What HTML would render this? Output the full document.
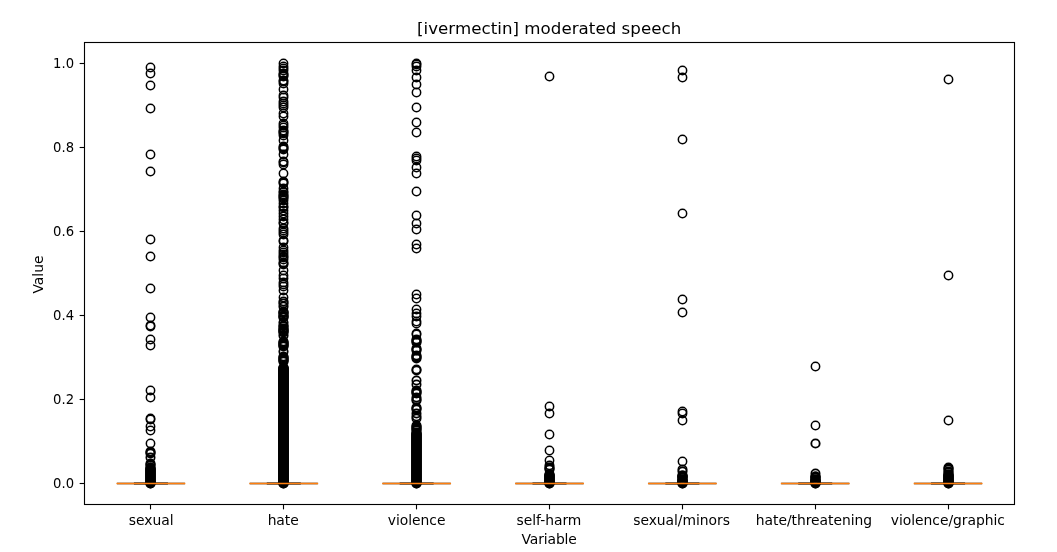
<!DOCTYPE html>
<html lang="en"><head><meta charset="utf-8">
<title>[ivermectin] moderated speech</title>
<style>
html,body{margin:0;padding:0;background:#fff;}
body{width:1057px;height:552px;overflow:hidden;}
svg{display:block;}
text{font-family:"DejaVu Sans","Liberation Sans",sans-serif;fill:#000;}
.t10{font-size:13.89px;}
.t12{font-size:16.67px;}
.fl circle{fill:none;stroke:#000;stroke-width:1.50;}
.fl circle.md{stroke-width:1.7;}
.fl circle.hv{stroke-width:1.85;}
.ln{stroke:#000;fill:none;}
.med{stroke:#ff7f0e;stroke-width:1.39;fill:none;}
.tk{stroke:#000;stroke-width:1.11;}
</style></head><body>
<svg width="1057" height="552" viewBox="0 0 1057 552">
<rect width="1057" height="552" fill="#fff"/>
<g class="col">
<path class="ln" stroke-width="1.7" d="M116.91 483.50H184.94"/>
<path class="ln" stroke-width="2.1" d="M133.92 483.50H167.94"/>
<g class="fl">
<circle cx="150.5" cy="67.5" r="4.17"/>
<circle cx="150.5" cy="73.5" r="4.17"/>
<circle cx="150.5" cy="85.5" r="4.17"/>
<circle cx="150.5" cy="108.5" r="4.17"/>
<circle cx="150.5" cy="154.5" r="4.17"/>
<circle cx="150.5" cy="171.5" r="4.17"/>
<circle cx="150.5" cy="239.5" r="4.17"/>
<circle cx="150.5" cy="256.5" r="4.17"/>
<circle cx="150.5" cy="288.5" r="4.17"/>
<circle cx="150.5" cy="317.5" r="4.17"/>
<circle cx="150.5" cy="325.5" r="4.17"/>
<circle cx="150.5" cy="326.5" r="4.17"/>
<circle cx="150.5" cy="339.5" r="4.17"/>
<circle cx="150.5" cy="345.5" r="4.17"/>
<circle cx="150.5" cy="390.5" r="4.17"/>
<circle cx="150.5" cy="397.5" r="4.17"/>
<circle cx="150.5" cy="418.5" r="4.17"/>
<circle cx="150.5" cy="419.5" r="4.17"/>
<circle cx="150.5" cy="426.5" r="4.17"/>
<circle cx="150.5" cy="430.5" r="4.17"/>
<circle cx="150.5" cy="443.5" r="4.17"/>
<circle cx="150.5" cy="451.5" r="4.17" class="md"/>
<circle cx="150.5" cy="452.5" r="4.17" class="md"/>
<circle cx="150.5" cy="453.5" r="4.17" class="md"/>
<circle cx="150.5" cy="457.5" r="4.17" class="md"/>
<circle cx="150.5" cy="463.5" r="4.17" class="md"/>
<circle cx="150.5" cy="464.5" r="4.17" class="md"/>
<circle cx="150.5" cy="465.5" r="4.17" class="md"/>
<circle cx="150.5" cy="467.5" r="4.17" class="md"/>
<circle cx="150.5" cy="468.5" r="4.17" class="md"/>
<circle cx="150.5" cy="468.5" r="4.17" class="md"/>
<circle cx="150.5" cy="469.5" r="4.17" class="md"/>
<circle cx="150.5" cy="469.5" r="4.17" class="md"/>
<circle cx="150.5" cy="470.5" r="4.17" class="md"/>
<circle cx="150.5" cy="470.5" r="4.17" class="md"/>
<circle cx="150.5" cy="471.5" r="4.17" class="md"/>
<circle cx="150.5" cy="471.5" r="4.17" class="md"/>
<circle cx="150.5" cy="472.5" r="4.17" class="md"/>
<circle cx="150.5" cy="472.5" r="4.17" class="md"/>
<circle cx="150.5" cy="473.5" r="4.17" class="md"/>
<circle cx="150.5" cy="473.5" r="4.17" class="md"/>
<circle cx="150.5" cy="474.5" r="4.17" class="md"/>
<circle cx="150.5" cy="474.5" r="4.17" class="md"/>
<circle cx="150.5" cy="475.5" r="4.17" class="md"/>
<circle cx="150.5" cy="475.5" r="4.17" class="md"/>
<circle cx="150.5" cy="476.5" r="4.17" class="md"/>
<circle cx="150.5" cy="476.5" r="4.17" class="md"/>
<circle cx="150.5" cy="477.5" r="4.17" class="md"/>
<circle cx="150.5" cy="477.5" r="4.17" class="md"/>
<circle cx="150.5" cy="478.5" r="4.17" class="md"/>
<circle cx="150.5" cy="478.5" r="4.17" class="md"/>
<circle cx="150.5" cy="479.5" r="4.17" class="md"/>
<circle cx="150.5" cy="479.5" r="4.17" class="md"/>
<circle cx="150.5" cy="480.5" r="4.17" class="md"/>
<circle cx="150.5" cy="480.5" r="4.17" class="md"/>
<circle cx="150.5" cy="481.5" r="4.17" class="md"/>
<circle cx="150.5" cy="481.5" r="4.17" class="md"/>
<circle cx="150.5" cy="482.5" r="4.17" class="md"/>
<circle cx="150.5" cy="482.5" r="4.17" class="md"/>
<circle cx="150.5" cy="483.5" r="4.17" class="md"/>
<circle cx="150.5" cy="483.5" r="4.17" class="md"/>
</g>
<path class="med" d="M116.51 483.50H185.34"/>
</g>
<g class="col">
<path class="ln" stroke-width="1.7" d="M249.77 483.50H317.80"/>
<path class="ln" stroke-width="2.1" d="M266.78 483.50H300.79"/>
<g class="fl">
<circle cx="283.5" cy="63.5" r="4.17"/>
<circle cx="283.5" cy="66.5" r="4.17"/>
<circle cx="283.5" cy="68.5" r="4.17"/>
<circle cx="283.5" cy="70.5" r="4.17"/>
<circle cx="283.5" cy="73.5" r="4.17"/>
<circle cx="283.5" cy="74.5" r="4.17"/>
<circle cx="283.5" cy="75.5" r="4.17"/>
<circle cx="283.5" cy="76.5" r="4.17"/>
<circle cx="283.5" cy="80.5" r="4.17"/>
<circle cx="283.5" cy="81.5" r="4.17"/>
<circle cx="283.5" cy="83.5" r="4.17"/>
<circle cx="283.5" cy="89.5" r="4.17"/>
<circle cx="283.5" cy="95.5" r="4.17"/>
<circle cx="283.5" cy="97.5" r="4.17"/>
<circle cx="283.5" cy="101.5" r="4.17"/>
<circle cx="283.5" cy="103.5" r="4.17"/>
<circle cx="283.5" cy="105.5" r="4.17"/>
<circle cx="283.5" cy="107.5" r="4.17"/>
<circle cx="283.5" cy="113.5" r="4.17"/>
<circle cx="283.5" cy="116.5" r="4.17"/>
<circle cx="283.5" cy="123.5" r="4.17"/>
<circle cx="283.5" cy="125.5" r="4.17"/>
<circle cx="283.5" cy="127.5" r="4.17"/>
<circle cx="283.5" cy="130.5" r="4.17"/>
<circle cx="283.5" cy="131.5" r="4.17"/>
<circle cx="283.5" cy="132.5" r="4.17"/>
<circle cx="283.5" cy="133.5" r="4.17"/>
<circle cx="283.5" cy="135.5" r="4.17"/>
<circle cx="283.5" cy="140.5" r="4.17"/>
<circle cx="283.5" cy="146.5" r="4.17"/>
<circle cx="283.5" cy="147.5" r="4.17"/>
<circle cx="283.5" cy="148.5" r="4.17"/>
<circle cx="283.5" cy="149.5" r="4.17"/>
<circle cx="283.5" cy="154.5" r="4.17"/>
<circle cx="283.5" cy="161.5" r="4.17"/>
<circle cx="283.5" cy="162.5" r="4.17"/>
<circle cx="283.5" cy="164.5" r="4.17"/>
<circle cx="283.5" cy="173.5" r="4.17"/>
<circle cx="283.5" cy="181.5" r="4.17"/>
<circle cx="283.5" cy="182.5" r="4.17"/>
<circle cx="283.5" cy="183.5" r="4.17"/>
<circle cx="283.5" cy="188.5" r="4.17"/>
<circle cx="283.5" cy="191.5" r="4.17"/>
<circle cx="283.5" cy="192.5" r="4.17"/>
<circle cx="283.5" cy="194.5" r="4.17"/>
<circle cx="283.5" cy="195.5" r="4.17"/>
<circle cx="283.5" cy="196.5" r="4.17"/>
<circle cx="283.5" cy="197.5" r="4.17"/>
<circle cx="283.5" cy="198.5" r="4.17"/>
<circle cx="283.5" cy="200.5" r="4.17"/>
<circle cx="283.5" cy="203.5" r="4.17"/>
<circle cx="283.5" cy="206.5" r="4.17"/>
<circle cx="283.5" cy="207.5" r="4.17"/>
<circle cx="283.5" cy="210.5" r="4.17"/>
<circle cx="283.5" cy="213.5" r="4.17"/>
<circle cx="283.5" cy="216.5" r="4.17"/>
<circle cx="283.5" cy="219.5" r="4.17"/>
<circle cx="283.5" cy="222.5" r="4.17"/>
<circle cx="283.5" cy="223.5" r="4.17"/>
<circle cx="283.5" cy="228.5" r="4.17"/>
<circle cx="283.5" cy="230.5" r="4.17"/>
<circle cx="283.5" cy="232.5" r="4.17"/>
<circle cx="283.5" cy="234.5" r="4.17"/>
<circle cx="283.5" cy="240.5" r="4.17"/>
<circle cx="283.5" cy="241.5" r="4.17"/>
<circle cx="283.5" cy="247.5" r="4.17"/>
<circle cx="283.5" cy="250.5" r="4.17"/>
<circle cx="283.5" cy="252.5" r="4.17"/>
<circle cx="283.5" cy="254.5" r="4.17"/>
<circle cx="283.5" cy="256.5" r="4.17"/>
<circle cx="283.5" cy="257.5" r="4.17"/>
<circle cx="283.5" cy="259.5" r="4.17"/>
<circle cx="283.5" cy="262.5" r="4.17"/>
<circle cx="283.5" cy="263.5" r="4.17"/>
<circle cx="283.5" cy="264.5" r="4.17"/>
<circle cx="283.5" cy="270.5" r="4.17"/>
<circle cx="283.5" cy="275.5" r="4.17"/>
<circle cx="283.5" cy="278.5" r="4.17"/>
<circle cx="283.5" cy="282.5" r="4.17"/>
<circle cx="283.5" cy="284.5" r="4.17"/>
<circle cx="283.5" cy="286.5" r="4.17"/>
<circle cx="283.5" cy="290.5" r="4.17"/>
<circle cx="283.5" cy="297.5" r="4.17"/>
<circle cx="283.5" cy="301.5" r="4.17" class="hv"/>
<circle cx="283.5" cy="303.5" r="4.17" class="hv"/>
<circle cx="283.5" cy="306.5" r="4.17" class="hv"/>
<circle cx="283.5" cy="311.5" r="4.17" class="hv"/>
<circle cx="283.5" cy="312.5" r="4.17" class="hv"/>
<circle cx="283.5" cy="313.5" r="4.17" class="hv"/>
<circle cx="283.5" cy="315.5" r="4.17" class="hv"/>
<circle cx="283.5" cy="316.5" r="4.17" class="hv"/>
<circle cx="283.5" cy="317.5" r="4.17" class="hv"/>
<circle cx="283.5" cy="322.5" r="4.17" class="hv"/>
<circle cx="283.5" cy="325.5" r="4.17" class="hv"/>
<circle cx="283.5" cy="326.5" r="4.17" class="hv"/>
<circle cx="283.5" cy="328.5" r="4.17" class="hv"/>
<circle cx="283.5" cy="329.5" r="4.17" class="hv"/>
<circle cx="283.5" cy="330.5" r="4.17" class="hv"/>
<circle cx="283.5" cy="331.5" r="4.17" class="hv"/>
<circle cx="283.5" cy="332.5" r="4.17" class="hv"/>
<circle cx="283.5" cy="335.5" r="4.17" class="hv"/>
<circle cx="283.5" cy="341.5" r="4.17" class="hv"/>
<circle cx="283.5" cy="342.5" r="4.17" class="hv"/>
<circle cx="283.5" cy="343.5" r="4.17" class="hv"/>
<circle cx="283.5" cy="344.5" r="4.17" class="hv"/>
<circle cx="283.5" cy="345.5" r="4.17" class="hv"/>
<circle cx="283.5" cy="346.5" r="4.17" class="hv"/>
<circle cx="283.5" cy="351.5" r="4.17" class="hv"/>
<circle cx="283.5" cy="356.5" r="4.17" class="hv"/>
<circle cx="283.5" cy="357.5" r="4.17" class="hv"/>
<circle cx="283.5" cy="358.5" r="4.17" class="hv"/>
<circle cx="283.5" cy="359.5" r="4.17" class="hv"/>
<circle cx="283.5" cy="360.5" r="4.17" class="hv"/>
<circle cx="283.5" cy="361.5" r="4.17" class="hv"/>
<circle cx="283.5" cy="367.5" r="4.17" class="hv"/>
<circle cx="283.5" cy="367.5" r="4.17" class="hv"/>
<circle cx="283.5" cy="368.5" r="4.17" class="hv"/>
<circle cx="283.5" cy="368.5" r="4.17" class="hv"/>
<circle cx="283.5" cy="369.5" r="4.17" class="hv"/>
<circle cx="283.5" cy="369.5" r="4.17" class="hv"/>
<circle cx="283.5" cy="370.5" r="4.17" class="hv"/>
<circle cx="283.5" cy="370.5" r="4.17" class="hv"/>
<circle cx="283.5" cy="371.5" r="4.17" class="hv"/>
<circle cx="283.5" cy="371.5" r="4.17" class="hv"/>
<circle cx="283.5" cy="372.5" r="4.17" class="hv"/>
<circle cx="283.5" cy="372.5" r="4.17" class="hv"/>
<circle cx="283.5" cy="373.5" r="4.17" class="hv"/>
<circle cx="283.5" cy="373.5" r="4.17" class="hv"/>
<circle cx="283.5" cy="374.5" r="4.17" class="hv"/>
<circle cx="283.5" cy="374.5" r="4.17" class="hv"/>
<circle cx="283.5" cy="375.5" r="4.17" class="hv"/>
<circle cx="283.5" cy="375.5" r="4.17" class="hv"/>
<circle cx="283.5" cy="376.5" r="4.17" class="hv"/>
<circle cx="283.5" cy="376.5" r="4.17" class="hv"/>
<circle cx="283.5" cy="377.5" r="4.17" class="hv"/>
<circle cx="283.5" cy="377.5" r="4.17" class="hv"/>
<circle cx="283.5" cy="378.5" r="4.17" class="hv"/>
<circle cx="283.5" cy="378.5" r="4.17" class="hv"/>
<circle cx="283.5" cy="379.5" r="4.17" class="hv"/>
<circle cx="283.5" cy="379.5" r="4.17" class="hv"/>
<circle cx="283.5" cy="380.5" r="4.17" class="hv"/>
<circle cx="283.5" cy="380.5" r="4.17" class="hv"/>
<circle cx="283.5" cy="381.5" r="4.17" class="hv"/>
<circle cx="283.5" cy="381.5" r="4.17" class="hv"/>
<circle cx="283.5" cy="382.5" r="4.17" class="hv"/>
<circle cx="283.5" cy="382.5" r="4.17" class="hv"/>
<circle cx="283.5" cy="383.5" r="4.17" class="hv"/>
<circle cx="283.5" cy="383.5" r="4.17" class="hv"/>
<circle cx="283.5" cy="384.5" r="4.17" class="hv"/>
<circle cx="283.5" cy="384.5" r="4.17" class="hv"/>
<circle cx="283.5" cy="385.5" r="4.17" class="hv"/>
<circle cx="283.5" cy="385.5" r="4.17" class="hv"/>
<circle cx="283.5" cy="386.5" r="4.17" class="hv"/>
<circle cx="283.5" cy="386.5" r="4.17" class="hv"/>
<circle cx="283.5" cy="387.5" r="4.17" class="hv"/>
<circle cx="283.5" cy="387.5" r="4.17" class="hv"/>
<circle cx="283.5" cy="388.5" r="4.17" class="hv"/>
<circle cx="283.5" cy="388.5" r="4.17" class="hv"/>
<circle cx="283.5" cy="389.5" r="4.17" class="hv"/>
<circle cx="283.5" cy="389.5" r="4.17" class="hv"/>
<circle cx="283.5" cy="390.5" r="4.17" class="hv"/>
<circle cx="283.5" cy="390.5" r="4.17" class="hv"/>
<circle cx="283.5" cy="391.5" r="4.17" class="hv"/>
<circle cx="283.5" cy="391.5" r="4.17" class="hv"/>
<circle cx="283.5" cy="392.5" r="4.17" class="hv"/>
<circle cx="283.5" cy="392.5" r="4.17" class="hv"/>
<circle cx="283.5" cy="393.5" r="4.17" class="hv"/>
<circle cx="283.5" cy="393.5" r="4.17" class="hv"/>
<circle cx="283.5" cy="394.5" r="4.17" class="hv"/>
<circle cx="283.5" cy="394.5" r="4.17" class="hv"/>
<circle cx="283.5" cy="395.5" r="4.17" class="hv"/>
<circle cx="283.5" cy="395.5" r="4.17" class="hv"/>
<circle cx="283.5" cy="396.5" r="4.17" class="hv"/>
<circle cx="283.5" cy="396.5" r="4.17" class="hv"/>
<circle cx="283.5" cy="397.5" r="4.17" class="hv"/>
<circle cx="283.5" cy="397.5" r="4.17" class="hv"/>
<circle cx="283.5" cy="398.5" r="4.17" class="hv"/>
<circle cx="283.5" cy="398.5" r="4.17" class="hv"/>
<circle cx="283.5" cy="399.5" r="4.17" class="hv"/>
<circle cx="283.5" cy="399.5" r="4.17" class="hv"/>
<circle cx="283.5" cy="400.5" r="4.17" class="hv"/>
<circle cx="283.5" cy="400.5" r="4.17" class="hv"/>
<circle cx="283.5" cy="401.5" r="4.17" class="hv"/>
<circle cx="283.5" cy="401.5" r="4.17" class="hv"/>
<circle cx="283.5" cy="402.5" r="4.17" class="hv"/>
<circle cx="283.5" cy="402.5" r="4.17" class="hv"/>
<circle cx="283.5" cy="403.5" r="4.17" class="hv"/>
<circle cx="283.5" cy="403.5" r="4.17" class="hv"/>
<circle cx="283.5" cy="404.5" r="4.17" class="hv"/>
<circle cx="283.5" cy="404.5" r="4.17" class="hv"/>
<circle cx="283.5" cy="405.5" r="4.17" class="hv"/>
<circle cx="283.5" cy="405.5" r="4.17" class="hv"/>
<circle cx="283.5" cy="406.5" r="4.17" class="hv"/>
<circle cx="283.5" cy="406.5" r="4.17" class="hv"/>
<circle cx="283.5" cy="407.5" r="4.17" class="hv"/>
<circle cx="283.5" cy="407.5" r="4.17" class="hv"/>
<circle cx="283.5" cy="408.5" r="4.17" class="hv"/>
<circle cx="283.5" cy="408.5" r="4.17" class="hv"/>
<circle cx="283.5" cy="409.5" r="4.17" class="hv"/>
<circle cx="283.5" cy="409.5" r="4.17" class="hv"/>
<circle cx="283.5" cy="410.5" r="4.17" class="hv"/>
<circle cx="283.5" cy="410.5" r="4.17" class="hv"/>
<circle cx="283.5" cy="411.5" r="4.17" class="hv"/>
<circle cx="283.5" cy="411.5" r="4.17" class="hv"/>
<circle cx="283.5" cy="412.5" r="4.17" class="hv"/>
<circle cx="283.5" cy="412.5" r="4.17" class="hv"/>
<circle cx="283.5" cy="413.5" r="4.17" class="hv"/>
<circle cx="283.5" cy="413.5" r="4.17" class="hv"/>
<circle cx="283.5" cy="414.5" r="4.17" class="hv"/>
<circle cx="283.5" cy="414.5" r="4.17" class="hv"/>
<circle cx="283.5" cy="415.5" r="4.17" class="hv"/>
<circle cx="283.5" cy="415.5" r="4.17" class="hv"/>
<circle cx="283.5" cy="416.5" r="4.17" class="hv"/>
<circle cx="283.5" cy="416.5" r="4.17" class="hv"/>
<circle cx="283.5" cy="417.5" r="4.17" class="hv"/>
<circle cx="283.5" cy="417.5" r="4.17" class="hv"/>
<circle cx="283.5" cy="418.5" r="4.17" class="hv"/>
<circle cx="283.5" cy="418.5" r="4.17" class="hv"/>
<circle cx="283.5" cy="419.5" r="4.17" class="hv"/>
<circle cx="283.5" cy="419.5" r="4.17" class="hv"/>
<circle cx="283.5" cy="420.5" r="4.17" class="hv"/>
<circle cx="283.5" cy="420.5" r="4.17" class="hv"/>
<circle cx="283.5" cy="421.5" r="4.17" class="hv"/>
<circle cx="283.5" cy="421.5" r="4.17" class="hv"/>
<circle cx="283.5" cy="422.5" r="4.17" class="hv"/>
<circle cx="283.5" cy="422.5" r="4.17" class="hv"/>
<circle cx="283.5" cy="423.5" r="4.17" class="hv"/>
<circle cx="283.5" cy="423.5" r="4.17" class="hv"/>
<circle cx="283.5" cy="424.5" r="4.17" class="hv"/>
<circle cx="283.5" cy="424.5" r="4.17" class="hv"/>
<circle cx="283.5" cy="425.5" r="4.17" class="hv"/>
<circle cx="283.5" cy="425.5" r="4.17" class="hv"/>
<circle cx="283.5" cy="426.5" r="4.17" class="hv"/>
<circle cx="283.5" cy="426.5" r="4.17" class="hv"/>
<circle cx="283.5" cy="427.5" r="4.17" class="hv"/>
<circle cx="283.5" cy="427.5" r="4.17" class="hv"/>
<circle cx="283.5" cy="428.5" r="4.17" class="hv"/>
<circle cx="283.5" cy="428.5" r="4.17" class="hv"/>
<circle cx="283.5" cy="429.5" r="4.17" class="hv"/>
<circle cx="283.5" cy="429.5" r="4.17" class="hv"/>
<circle cx="283.5" cy="430.5" r="4.17" class="hv"/>
<circle cx="283.5" cy="430.5" r="4.17" class="hv"/>
<circle cx="283.5" cy="431.5" r="4.17" class="hv"/>
<circle cx="283.5" cy="431.5" r="4.17" class="hv"/>
<circle cx="283.5" cy="432.5" r="4.17" class="hv"/>
<circle cx="283.5" cy="432.5" r="4.17" class="hv"/>
<circle cx="283.5" cy="433.5" r="4.17" class="hv"/>
<circle cx="283.5" cy="433.5" r="4.17" class="hv"/>
<circle cx="283.5" cy="434.5" r="4.17" class="hv"/>
<circle cx="283.5" cy="434.5" r="4.17" class="hv"/>
<circle cx="283.5" cy="435.5" r="4.17" class="hv"/>
<circle cx="283.5" cy="435.5" r="4.17" class="hv"/>
<circle cx="283.5" cy="436.5" r="4.17" class="hv"/>
<circle cx="283.5" cy="436.5" r="4.17" class="hv"/>
<circle cx="283.5" cy="437.5" r="4.17" class="hv"/>
<circle cx="283.5" cy="437.5" r="4.17" class="hv"/>
<circle cx="283.5" cy="438.5" r="4.17" class="hv"/>
<circle cx="283.5" cy="438.5" r="4.17" class="hv"/>
<circle cx="283.5" cy="439.5" r="4.17" class="hv"/>
<circle cx="283.5" cy="439.5" r="4.17" class="hv"/>
<circle cx="283.5" cy="440.5" r="4.17" class="hv"/>
<circle cx="283.5" cy="440.5" r="4.17" class="hv"/>
<circle cx="283.5" cy="441.5" r="4.17" class="hv"/>
<circle cx="283.5" cy="441.5" r="4.17" class="hv"/>
<circle cx="283.5" cy="442.5" r="4.17" class="hv"/>
<circle cx="283.5" cy="442.5" r="4.17" class="hv"/>
<circle cx="283.5" cy="443.5" r="4.17" class="hv"/>
<circle cx="283.5" cy="443.5" r="4.17" class="hv"/>
<circle cx="283.5" cy="444.5" r="4.17" class="hv"/>
<circle cx="283.5" cy="444.5" r="4.17" class="hv"/>
<circle cx="283.5" cy="445.5" r="4.17" class="hv"/>
<circle cx="283.5" cy="445.5" r="4.17" class="hv"/>
<circle cx="283.5" cy="446.5" r="4.17" class="hv"/>
<circle cx="283.5" cy="446.5" r="4.17" class="hv"/>
<circle cx="283.5" cy="447.5" r="4.17" class="hv"/>
<circle cx="283.5" cy="447.5" r="4.17" class="hv"/>
<circle cx="283.5" cy="448.5" r="4.17" class="hv"/>
<circle cx="283.5" cy="448.5" r="4.17" class="hv"/>
<circle cx="283.5" cy="449.5" r="4.17" class="hv"/>
<circle cx="283.5" cy="449.5" r="4.17" class="hv"/>
<circle cx="283.5" cy="450.5" r="4.17" class="hv"/>
<circle cx="283.5" cy="450.5" r="4.17" class="hv"/>
<circle cx="283.5" cy="451.5" r="4.17" class="hv"/>
<circle cx="283.5" cy="451.5" r="4.17" class="hv"/>
<circle cx="283.5" cy="452.5" r="4.17" class="hv"/>
<circle cx="283.5" cy="452.5" r="4.17" class="hv"/>
<circle cx="283.5" cy="453.5" r="4.17" class="hv"/>
<circle cx="283.5" cy="453.5" r="4.17" class="hv"/>
<circle cx="283.5" cy="454.5" r="4.17" class="hv"/>
<circle cx="283.5" cy="454.5" r="4.17" class="hv"/>
<circle cx="283.5" cy="455.5" r="4.17" class="hv"/>
<circle cx="283.5" cy="455.5" r="4.17" class="hv"/>
<circle cx="283.5" cy="456.5" r="4.17" class="hv"/>
<circle cx="283.5" cy="456.5" r="4.17" class="hv"/>
<circle cx="283.5" cy="457.5" r="4.17" class="hv"/>
<circle cx="283.5" cy="457.5" r="4.17" class="hv"/>
<circle cx="283.5" cy="458.5" r="4.17" class="hv"/>
<circle cx="283.5" cy="458.5" r="4.17" class="hv"/>
<circle cx="283.5" cy="459.5" r="4.17" class="hv"/>
<circle cx="283.5" cy="459.5" r="4.17" class="hv"/>
<circle cx="283.5" cy="460.5" r="4.17" class="hv"/>
<circle cx="283.5" cy="460.5" r="4.17" class="hv"/>
<circle cx="283.5" cy="461.5" r="4.17" class="hv"/>
<circle cx="283.5" cy="461.5" r="4.17" class="hv"/>
<circle cx="283.5" cy="462.5" r="4.17" class="hv"/>
<circle cx="283.5" cy="462.5" r="4.17" class="hv"/>
<circle cx="283.5" cy="463.5" r="4.17" class="hv"/>
<circle cx="283.5" cy="463.5" r="4.17" class="hv"/>
<circle cx="283.5" cy="464.5" r="4.17" class="hv"/>
<circle cx="283.5" cy="464.5" r="4.17" class="hv"/>
<circle cx="283.5" cy="465.5" r="4.17" class="hv"/>
<circle cx="283.5" cy="465.5" r="4.17" class="hv"/>
<circle cx="283.5" cy="466.5" r="4.17" class="hv"/>
<circle cx="283.5" cy="466.5" r="4.17" class="hv"/>
<circle cx="283.5" cy="467.5" r="4.17" class="hv"/>
<circle cx="283.5" cy="467.5" r="4.17" class="hv"/>
<circle cx="283.5" cy="468.5" r="4.17" class="hv"/>
<circle cx="283.5" cy="468.5" r="4.17" class="hv"/>
<circle cx="283.5" cy="469.5" r="4.17" class="hv"/>
<circle cx="283.5" cy="469.5" r="4.17" class="hv"/>
<circle cx="283.5" cy="470.5" r="4.17" class="hv"/>
<circle cx="283.5" cy="470.5" r="4.17" class="hv"/>
<circle cx="283.5" cy="471.5" r="4.17" class="hv"/>
<circle cx="283.5" cy="471.5" r="4.17" class="hv"/>
<circle cx="283.5" cy="472.5" r="4.17" class="hv"/>
<circle cx="283.5" cy="472.5" r="4.17" class="hv"/>
<circle cx="283.5" cy="473.5" r="4.17" class="hv"/>
<circle cx="283.5" cy="473.5" r="4.17" class="hv"/>
<circle cx="283.5" cy="474.5" r="4.17" class="hv"/>
<circle cx="283.5" cy="474.5" r="4.17" class="hv"/>
<circle cx="283.5" cy="475.5" r="4.17" class="hv"/>
<circle cx="283.5" cy="475.5" r="4.17" class="hv"/>
<circle cx="283.5" cy="476.5" r="4.17" class="hv"/>
<circle cx="283.5" cy="476.5" r="4.17" class="hv"/>
<circle cx="283.5" cy="477.5" r="4.17" class="hv"/>
<circle cx="283.5" cy="477.5" r="4.17" class="hv"/>
<circle cx="283.5" cy="478.5" r="4.17" class="hv"/>
<circle cx="283.5" cy="478.5" r="4.17" class="hv"/>
<circle cx="283.5" cy="479.5" r="4.17" class="hv"/>
<circle cx="283.5" cy="479.5" r="4.17" class="hv"/>
<circle cx="283.5" cy="480.5" r="4.17" class="hv"/>
<circle cx="283.5" cy="480.5" r="4.17" class="hv"/>
<circle cx="283.5" cy="481.5" r="4.17" class="hv"/>
<circle cx="283.5" cy="481.5" r="4.17" class="hv"/>
<circle cx="283.5" cy="482.5" r="4.17" class="hv"/>
<circle cx="283.5" cy="482.5" r="4.17" class="hv"/>
<circle cx="283.5" cy="483.5" r="4.17" class="hv"/>
<circle cx="283.5" cy="483.5" r="4.17" class="hv"/>
</g>
<path class="med" d="M249.37 483.50H318.20"/>
</g>
<g class="col">
<path class="ln" stroke-width="1.7" d="M382.63 483.50H450.66"/>
<path class="ln" stroke-width="2.1" d="M399.64 483.50H433.65"/>
<g class="fl">
<circle cx="416.5" cy="63.5" r="4.17"/>
<circle cx="416.5" cy="64.5" r="4.17"/>
<circle cx="416.5" cy="66.5" r="4.17"/>
<circle cx="416.5" cy="70.5" r="4.17"/>
<circle cx="416.5" cy="77.5" r="4.17"/>
<circle cx="416.5" cy="84.5" r="4.17"/>
<circle cx="416.5" cy="92.5" r="4.17"/>
<circle cx="416.5" cy="107.5" r="4.17"/>
<circle cx="416.5" cy="122.5" r="4.17"/>
<circle cx="416.5" cy="132.5" r="4.17"/>
<circle cx="416.5" cy="156.5" r="4.17"/>
<circle cx="416.5" cy="158.5" r="4.17"/>
<circle cx="416.5" cy="160.5" r="4.17"/>
<circle cx="416.5" cy="167.5" r="4.17"/>
<circle cx="416.5" cy="173.5" r="4.17"/>
<circle cx="416.5" cy="191.5" r="4.17"/>
<circle cx="416.5" cy="215.5" r="4.17"/>
<circle cx="416.5" cy="223.5" r="4.17"/>
<circle cx="416.5" cy="229.5" r="4.17"/>
<circle cx="416.5" cy="244.5" r="4.17"/>
<circle cx="416.5" cy="248.5" r="4.17"/>
<circle cx="416.5" cy="294.5" r="4.17"/>
<circle cx="416.5" cy="298.5" r="4.17"/>
<circle cx="416.5" cy="309.5" r="4.17"/>
<circle cx="416.5" cy="313.5" r="4.17"/>
<circle cx="416.5" cy="316.5" r="4.17"/>
<circle cx="416.5" cy="321.5" r="4.17"/>
<circle cx="416.5" cy="323.5" r="4.17"/>
<circle cx="416.5" cy="333.5" r="4.17"/>
<circle cx="416.5" cy="334.5" r="4.17"/>
<circle cx="416.5" cy="339.5" r="4.17" class="md"/>
<circle cx="416.5" cy="340.5" r="4.17" class="md"/>
<circle cx="416.5" cy="341.5" r="4.17" class="md"/>
<circle cx="416.5" cy="342.5" r="4.17" class="md"/>
<circle cx="416.5" cy="348.5" r="4.17" class="md"/>
<circle cx="416.5" cy="349.5" r="4.17" class="md"/>
<circle cx="416.5" cy="350.5" r="4.17" class="md"/>
<circle cx="416.5" cy="355.5" r="4.17" class="md"/>
<circle cx="416.5" cy="356.5" r="4.17" class="md"/>
<circle cx="416.5" cy="357.5" r="4.17" class="md"/>
<circle cx="416.5" cy="358.5" r="4.17" class="md"/>
<circle cx="416.5" cy="369.5" r="4.17" class="md"/>
<circle cx="416.5" cy="370.5" r="4.17" class="md"/>
<circle cx="416.5" cy="380.5" r="4.17" class="md"/>
<circle cx="416.5" cy="384.5" r="4.17" class="md"/>
<circle cx="416.5" cy="390.5" r="4.17" class="md"/>
<circle cx="416.5" cy="391.5" r="4.17" class="md"/>
<circle cx="416.5" cy="392.5" r="4.17" class="md"/>
<circle cx="416.5" cy="393.5" r="4.17" class="md"/>
<circle cx="416.5" cy="397.5" r="4.17" class="md"/>
<circle cx="416.5" cy="399.5" r="4.17" class="md"/>
<circle cx="416.5" cy="400.5" r="4.17" class="md"/>
<circle cx="416.5" cy="407.5" r="4.17" class="md"/>
<circle cx="416.5" cy="408.5" r="4.17" class="md"/>
<circle cx="416.5" cy="409.5" r="4.17" class="md"/>
<circle cx="416.5" cy="413.5" r="4.17" class="md"/>
<circle cx="416.5" cy="416.5" r="4.17" class="md"/>
<circle cx="416.5" cy="418.5" r="4.17" class="md"/>
<circle cx="416.5" cy="425.5" r="4.17" class="md"/>
<circle cx="416.5" cy="426.5" r="4.17" class="md"/>
<circle cx="416.5" cy="427.5" r="4.17" class="md"/>
<circle cx="416.5" cy="428.5" r="4.17" class="md"/>
<circle cx="416.5" cy="429.5" r="4.17" class="md"/>
<circle cx="416.5" cy="430.5" r="4.17" class="md"/>
<circle cx="416.5" cy="432.5" r="4.17" class="md"/>
<circle cx="416.5" cy="433.5" r="4.17" class="md"/>
<circle cx="416.5" cy="433.5" r="4.17" class="md"/>
<circle cx="416.5" cy="434.5" r="4.17" class="md"/>
<circle cx="416.5" cy="434.5" r="4.17" class="md"/>
<circle cx="416.5" cy="435.5" r="4.17" class="md"/>
<circle cx="416.5" cy="435.5" r="4.17" class="md"/>
<circle cx="416.5" cy="436.5" r="4.17" class="md"/>
<circle cx="416.5" cy="436.5" r="4.17" class="md"/>
<circle cx="416.5" cy="437.5" r="4.17" class="md"/>
<circle cx="416.5" cy="437.5" r="4.17" class="md"/>
<circle cx="416.5" cy="438.5" r="4.17" class="md"/>
<circle cx="416.5" cy="438.5" r="4.17" class="md"/>
<circle cx="416.5" cy="439.5" r="4.17" class="md"/>
<circle cx="416.5" cy="439.5" r="4.17" class="md"/>
<circle cx="416.5" cy="440.5" r="4.17" class="md"/>
<circle cx="416.5" cy="440.5" r="4.17" class="md"/>
<circle cx="416.5" cy="441.5" r="4.17" class="md"/>
<circle cx="416.5" cy="441.5" r="4.17" class="md"/>
<circle cx="416.5" cy="442.5" r="4.17" class="md"/>
<circle cx="416.5" cy="442.5" r="4.17" class="md"/>
<circle cx="416.5" cy="443.5" r="4.17" class="md"/>
<circle cx="416.5" cy="443.5" r="4.17" class="md"/>
<circle cx="416.5" cy="444.5" r="4.17" class="md"/>
<circle cx="416.5" cy="444.5" r="4.17" class="md"/>
<circle cx="416.5" cy="445.5" r="4.17" class="md"/>
<circle cx="416.5" cy="445.5" r="4.17" class="md"/>
<circle cx="416.5" cy="446.5" r="4.17" class="md"/>
<circle cx="416.5" cy="446.5" r="4.17" class="md"/>
<circle cx="416.5" cy="447.5" r="4.17" class="md"/>
<circle cx="416.5" cy="447.5" r="4.17" class="md"/>
<circle cx="416.5" cy="448.5" r="4.17" class="md"/>
<circle cx="416.5" cy="448.5" r="4.17" class="md"/>
<circle cx="416.5" cy="449.5" r="4.17" class="md"/>
<circle cx="416.5" cy="449.5" r="4.17" class="md"/>
<circle cx="416.5" cy="450.5" r="4.17" class="md"/>
<circle cx="416.5" cy="450.5" r="4.17" class="md"/>
<circle cx="416.5" cy="451.5" r="4.17" class="md"/>
<circle cx="416.5" cy="451.5" r="4.17" class="md"/>
<circle cx="416.5" cy="452.5" r="4.17" class="md"/>
<circle cx="416.5" cy="452.5" r="4.17" class="md"/>
<circle cx="416.5" cy="453.5" r="4.17" class="md"/>
<circle cx="416.5" cy="453.5" r="4.17" class="md"/>
<circle cx="416.5" cy="454.5" r="4.17" class="md"/>
<circle cx="416.5" cy="454.5" r="4.17" class="md"/>
<circle cx="416.5" cy="455.5" r="4.17" class="md"/>
<circle cx="416.5" cy="455.5" r="4.17" class="md"/>
<circle cx="416.5" cy="456.5" r="4.17" class="md"/>
<circle cx="416.5" cy="456.5" r="4.17" class="md"/>
<circle cx="416.5" cy="457.5" r="4.17" class="md"/>
<circle cx="416.5" cy="457.5" r="4.17" class="md"/>
<circle cx="416.5" cy="458.5" r="4.17" class="md"/>
<circle cx="416.5" cy="458.5" r="4.17" class="md"/>
<circle cx="416.5" cy="459.5" r="4.17" class="md"/>
<circle cx="416.5" cy="459.5" r="4.17" class="md"/>
<circle cx="416.5" cy="460.5" r="4.17" class="md"/>
<circle cx="416.5" cy="460.5" r="4.17" class="md"/>
<circle cx="416.5" cy="461.5" r="4.17" class="md"/>
<circle cx="416.5" cy="461.5" r="4.17" class="md"/>
<circle cx="416.5" cy="462.5" r="4.17" class="md"/>
<circle cx="416.5" cy="462.5" r="4.17" class="md"/>
<circle cx="416.5" cy="463.5" r="4.17" class="md"/>
<circle cx="416.5" cy="463.5" r="4.17" class="md"/>
<circle cx="416.5" cy="464.5" r="4.17" class="md"/>
<circle cx="416.5" cy="464.5" r="4.17" class="md"/>
<circle cx="416.5" cy="465.5" r="4.17" class="md"/>
<circle cx="416.5" cy="465.5" r="4.17" class="md"/>
<circle cx="416.5" cy="466.5" r="4.17" class="md"/>
<circle cx="416.5" cy="466.5" r="4.17" class="md"/>
<circle cx="416.5" cy="467.5" r="4.17" class="md"/>
<circle cx="416.5" cy="467.5" r="4.17" class="md"/>
<circle cx="416.5" cy="468.5" r="4.17" class="md"/>
<circle cx="416.5" cy="468.5" r="4.17" class="md"/>
<circle cx="416.5" cy="469.5" r="4.17" class="md"/>
<circle cx="416.5" cy="469.5" r="4.17" class="md"/>
<circle cx="416.5" cy="470.5" r="4.17" class="md"/>
<circle cx="416.5" cy="470.5" r="4.17" class="md"/>
<circle cx="416.5" cy="471.5" r="4.17" class="md"/>
<circle cx="416.5" cy="471.5" r="4.17" class="md"/>
<circle cx="416.5" cy="472.5" r="4.17" class="md"/>
<circle cx="416.5" cy="472.5" r="4.17" class="md"/>
<circle cx="416.5" cy="473.5" r="4.17" class="md"/>
<circle cx="416.5" cy="473.5" r="4.17" class="md"/>
<circle cx="416.5" cy="474.5" r="4.17" class="md"/>
<circle cx="416.5" cy="474.5" r="4.17" class="md"/>
<circle cx="416.5" cy="475.5" r="4.17" class="md"/>
<circle cx="416.5" cy="475.5" r="4.17" class="md"/>
<circle cx="416.5" cy="476.5" r="4.17" class="md"/>
<circle cx="416.5" cy="476.5" r="4.17" class="md"/>
<circle cx="416.5" cy="477.5" r="4.17" class="md"/>
<circle cx="416.5" cy="477.5" r="4.17" class="md"/>
<circle cx="416.5" cy="478.5" r="4.17" class="md"/>
<circle cx="416.5" cy="478.5" r="4.17" class="md"/>
<circle cx="416.5" cy="479.5" r="4.17" class="md"/>
<circle cx="416.5" cy="479.5" r="4.17" class="md"/>
<circle cx="416.5" cy="480.5" r="4.17" class="md"/>
<circle cx="416.5" cy="480.5" r="4.17" class="md"/>
<circle cx="416.5" cy="481.5" r="4.17" class="md"/>
<circle cx="416.5" cy="481.5" r="4.17" class="md"/>
<circle cx="416.5" cy="482.5" r="4.17" class="md"/>
<circle cx="416.5" cy="482.5" r="4.17" class="md"/>
<circle cx="416.5" cy="483.5" r="4.17" class="md"/>
<circle cx="416.5" cy="483.5" r="4.17" class="md"/>
</g>
<path class="med" d="M382.23 483.50H451.06"/>
</g>
<g class="col">
<path class="ln" stroke-width="1.7" d="M515.49 483.50H583.51"/>
<path class="ln" stroke-width="2.1" d="M532.49 483.50H566.51"/>
<g class="fl">
<circle cx="549.5" cy="76.5" r="4.17"/>
<circle cx="549.5" cy="406.5" r="4.17"/>
<circle cx="549.5" cy="413.5" r="4.17"/>
<circle cx="549.5" cy="434.5" r="4.17"/>
<circle cx="549.5" cy="450.5" r="4.17"/>
<circle cx="549.5" cy="460.5" r="4.17"/>
<circle cx="549.5" cy="465.5" r="4.17" class="md"/>
<circle cx="549.5" cy="467.5" r="4.17" class="md"/>
<circle cx="549.5" cy="468.5" r="4.17" class="md"/>
<circle cx="549.5" cy="469.5" r="4.17" class="md"/>
<circle cx="549.5" cy="474.5" r="4.17" class="md"/>
<circle cx="549.5" cy="474.5" r="4.17" class="md"/>
<circle cx="549.5" cy="475.5" r="4.17" class="md"/>
<circle cx="549.5" cy="475.5" r="4.17" class="md"/>
<circle cx="549.5" cy="476.5" r="4.17" class="md"/>
<circle cx="549.5" cy="476.5" r="4.17" class="md"/>
<circle cx="549.5" cy="477.5" r="4.17" class="md"/>
<circle cx="549.5" cy="477.5" r="4.17" class="md"/>
<circle cx="549.5" cy="478.5" r="4.17" class="md"/>
<circle cx="549.5" cy="478.5" r="4.17" class="md"/>
<circle cx="549.5" cy="479.5" r="4.17" class="md"/>
<circle cx="549.5" cy="479.5" r="4.17" class="md"/>
<circle cx="549.5" cy="480.5" r="4.17" class="md"/>
<circle cx="549.5" cy="480.5" r="4.17" class="md"/>
<circle cx="549.5" cy="481.5" r="4.17" class="md"/>
<circle cx="549.5" cy="481.5" r="4.17" class="md"/>
<circle cx="549.5" cy="482.5" r="4.17" class="md"/>
<circle cx="549.5" cy="482.5" r="4.17" class="md"/>
<circle cx="549.5" cy="483.5" r="4.17" class="md"/>
<circle cx="549.5" cy="483.5" r="4.17" class="md"/>
</g>
<path class="med" d="M515.09 483.50H583.91"/>
</g>
<g class="col">
<path class="ln" stroke-width="1.7" d="M648.34 483.50H716.37"/>
<path class="ln" stroke-width="2.1" d="M665.35 483.50H699.36"/>
<g class="fl">
<circle cx="682.5" cy="70.5" r="4.17"/>
<circle cx="682.5" cy="77.5" r="4.17"/>
<circle cx="682.5" cy="139.5" r="4.17"/>
<circle cx="682.5" cy="213.5" r="4.17"/>
<circle cx="682.5" cy="299.5" r="4.17"/>
<circle cx="682.5" cy="312.5" r="4.17"/>
<circle cx="682.5" cy="411.5" r="4.17"/>
<circle cx="682.5" cy="413.5" r="4.17"/>
<circle cx="682.5" cy="420.5" r="4.17"/>
<circle cx="682.5" cy="461.5" r="4.17"/>
<circle cx="682.5" cy="469.5" r="4.17" class="md"/>
<circle cx="682.5" cy="471.5" r="4.17" class="md"/>
<circle cx="682.5" cy="475.5" r="4.17" class="md"/>
<circle cx="682.5" cy="475.5" r="4.17" class="md"/>
<circle cx="682.5" cy="476.5" r="4.17" class="md"/>
<circle cx="682.5" cy="476.5" r="4.17" class="md"/>
<circle cx="682.5" cy="477.5" r="4.17" class="md"/>
<circle cx="682.5" cy="477.5" r="4.17" class="md"/>
<circle cx="682.5" cy="479.5" r="4.17" class="md"/>
<circle cx="682.5" cy="479.5" r="4.17" class="md"/>
<circle cx="682.5" cy="480.5" r="4.17" class="md"/>
<circle cx="682.5" cy="480.5" r="4.17" class="md"/>
<circle cx="682.5" cy="481.5" r="4.17" class="md"/>
<circle cx="682.5" cy="481.5" r="4.17" class="md"/>
<circle cx="682.5" cy="482.5" r="4.17" class="md"/>
<circle cx="682.5" cy="482.5" r="4.17" class="md"/>
<circle cx="682.5" cy="483.5" r="4.17" class="md"/>
<circle cx="682.5" cy="483.5" r="4.17" class="md"/>
</g>
<path class="med" d="M647.94 483.50H716.77"/>
</g>
<g class="col">
<path class="ln" stroke-width="1.7" d="M781.20 483.50H849.23"/>
<path class="ln" stroke-width="2.1" d="M798.21 483.50H832.22"/>
<g class="fl">
<circle cx="815.5" cy="366.5" r="4.17"/>
<circle cx="815.5" cy="425.5" r="4.17"/>
<circle cx="815.5" cy="443.5" r="4.17" class="hv"/>
<circle cx="815.5" cy="473.5" r="4.17" class="md"/>
<circle cx="815.5" cy="476.5" r="4.17" class="md"/>
<circle cx="815.5" cy="476.5" r="4.17" class="md"/>
<circle cx="815.5" cy="477.5" r="4.17" class="md"/>
<circle cx="815.5" cy="477.5" r="4.17" class="md"/>
<circle cx="815.5" cy="479.5" r="4.17" class="md"/>
<circle cx="815.5" cy="479.5" r="4.17" class="md"/>
<circle cx="815.5" cy="480.5" r="4.17" class="md"/>
<circle cx="815.5" cy="480.5" r="4.17" class="md"/>
<circle cx="815.5" cy="481.5" r="4.17" class="md"/>
<circle cx="815.5" cy="481.5" r="4.17" class="md"/>
<circle cx="815.5" cy="482.5" r="4.17" class="md"/>
<circle cx="815.5" cy="482.5" r="4.17" class="md"/>
<circle cx="815.5" cy="483.5" r="4.17" class="md"/>
<circle cx="815.5" cy="483.5" r="4.17" class="md"/>
</g>
<path class="med" d="M780.80 483.50H849.63"/>
</g>
<g class="col">
<path class="ln" stroke-width="1.7" d="M914.06 483.50H982.09"/>
<path class="ln" stroke-width="2.1" d="M931.06 483.50H965.08"/>
<g class="fl">
<circle cx="948.5" cy="79.5" r="4.17"/>
<circle cx="948.5" cy="275.5" r="4.17"/>
<circle cx="948.5" cy="420.5" r="4.17"/>
<circle cx="948.5" cy="467.5" r="4.17" class="md"/>
<circle cx="948.5" cy="468.5" r="4.17" class="md"/>
<circle cx="948.5" cy="469.5" r="4.17" class="md"/>
<circle cx="948.5" cy="471.5" r="4.17" class="md"/>
<circle cx="948.5" cy="472.5" r="4.17" class="md"/>
<circle cx="948.5" cy="474.5" r="4.17" class="md"/>
<circle cx="948.5" cy="474.5" r="4.17" class="md"/>
<circle cx="948.5" cy="475.5" r="4.17" class="md"/>
<circle cx="948.5" cy="475.5" r="4.17" class="md"/>
<circle cx="948.5" cy="476.5" r="4.17" class="md"/>
<circle cx="948.5" cy="476.5" r="4.17" class="md"/>
<circle cx="948.5" cy="477.5" r="4.17" class="md"/>
<circle cx="948.5" cy="477.5" r="4.17" class="md"/>
<circle cx="948.5" cy="478.5" r="4.17" class="md"/>
<circle cx="948.5" cy="478.5" r="4.17" class="md"/>
<circle cx="948.5" cy="479.5" r="4.17" class="md"/>
<circle cx="948.5" cy="479.5" r="4.17" class="md"/>
<circle cx="948.5" cy="480.5" r="4.17" class="md"/>
<circle cx="948.5" cy="480.5" r="4.17" class="md"/>
<circle cx="948.5" cy="481.5" r="4.17" class="md"/>
<circle cx="948.5" cy="481.5" r="4.17" class="md"/>
<circle cx="948.5" cy="482.5" r="4.17" class="md"/>
<circle cx="948.5" cy="482.5" r="4.17" class="md"/>
<circle cx="948.5" cy="483.5" r="4.17" class="md"/>
<circle cx="948.5" cy="483.5" r="4.17" class="md"/>
</g>
<path class="med" d="M913.66 483.50H982.49"/>
</g>
<path class="tk" d="M150.50 504.50v4.86"/>
<text class="t10" x="151.23" y="524.7" text-anchor="middle" textLength="44.9">sexual</text>
<path class="tk" d="M283.50 504.50v4.86"/>
<text class="t10" x="283.19" y="524.7" text-anchor="middle" textLength="31.1">hate</text>
<path class="tk" d="M416.50 504.50v4.86"/>
<text class="t10" x="416.64" y="524.7" text-anchor="middle" textLength="57.6">violence</text>
<path class="tk" d="M549.50 504.50v4.86"/>
<text class="t10" x="549.00" y="524.7" text-anchor="middle" textLength="64.8">self-harm</text>
<path class="tk" d="M682.50 504.50v4.86"/>
<text class="t10" x="681.56" y="524.7" text-anchor="middle" textLength="96.6">sexual/minors</text>
<path class="tk" d="M815.50 504.50v4.86"/>
<text class="t10" x="813.91" y="524.7" text-anchor="middle" textLength="116.2">hate/threatening</text>
<path class="tk" d="M948.50 504.50v4.86"/>
<text class="t10" x="947.87" y="524.7" text-anchor="middle" textLength="114.0">violence/graphic</text>
<path class="tk" d="M84.50 483.50h-4.86"/>
<text class="t10" x="74.1" y="487.70" text-anchor="end" textLength="21.0" lengthAdjust="spacingAndGlyphs">0.0</text>
<path class="tk" d="M84.50 399.50h-4.86"/>
<text class="t10" x="74.1" y="403.70" text-anchor="end" textLength="21.0" lengthAdjust="spacingAndGlyphs">0.2</text>
<path class="tk" d="M84.50 315.50h-4.86"/>
<text class="t10" x="74.1" y="319.70" text-anchor="end" textLength="21.0" lengthAdjust="spacingAndGlyphs">0.4</text>
<path class="tk" d="M84.50 231.50h-4.86"/>
<text class="t10" x="74.1" y="235.70" text-anchor="end" textLength="21.0" lengthAdjust="spacingAndGlyphs">0.6</text>
<path class="tk" d="M84.50 147.50h-4.86"/>
<text class="t10" x="74.1" y="151.70" text-anchor="end" textLength="21.0" lengthAdjust="spacingAndGlyphs">0.8</text>
<path class="tk" d="M84.50 63.50h-4.86"/>
<text class="t10" x="74.1" y="67.70" text-anchor="end" textLength="21.0" lengthAdjust="spacingAndGlyphs">1.0</text>
<rect x="84.50" y="42.50" width="930.00" height="462.00" fill="none" stroke="#000" stroke-width="1.11"/>
<text class="t12" x="549.10" y="34.1" text-anchor="middle" textLength="264.2">[ivermectin] moderated speech</text>
<text class="t10" x="549.20" y="543.9" text-anchor="middle" textLength="55.4">Variable</text>
<text class="t10" transform="translate(42.8 274.50) rotate(-90)" text-anchor="middle">Value</text>
</svg></body></html>
